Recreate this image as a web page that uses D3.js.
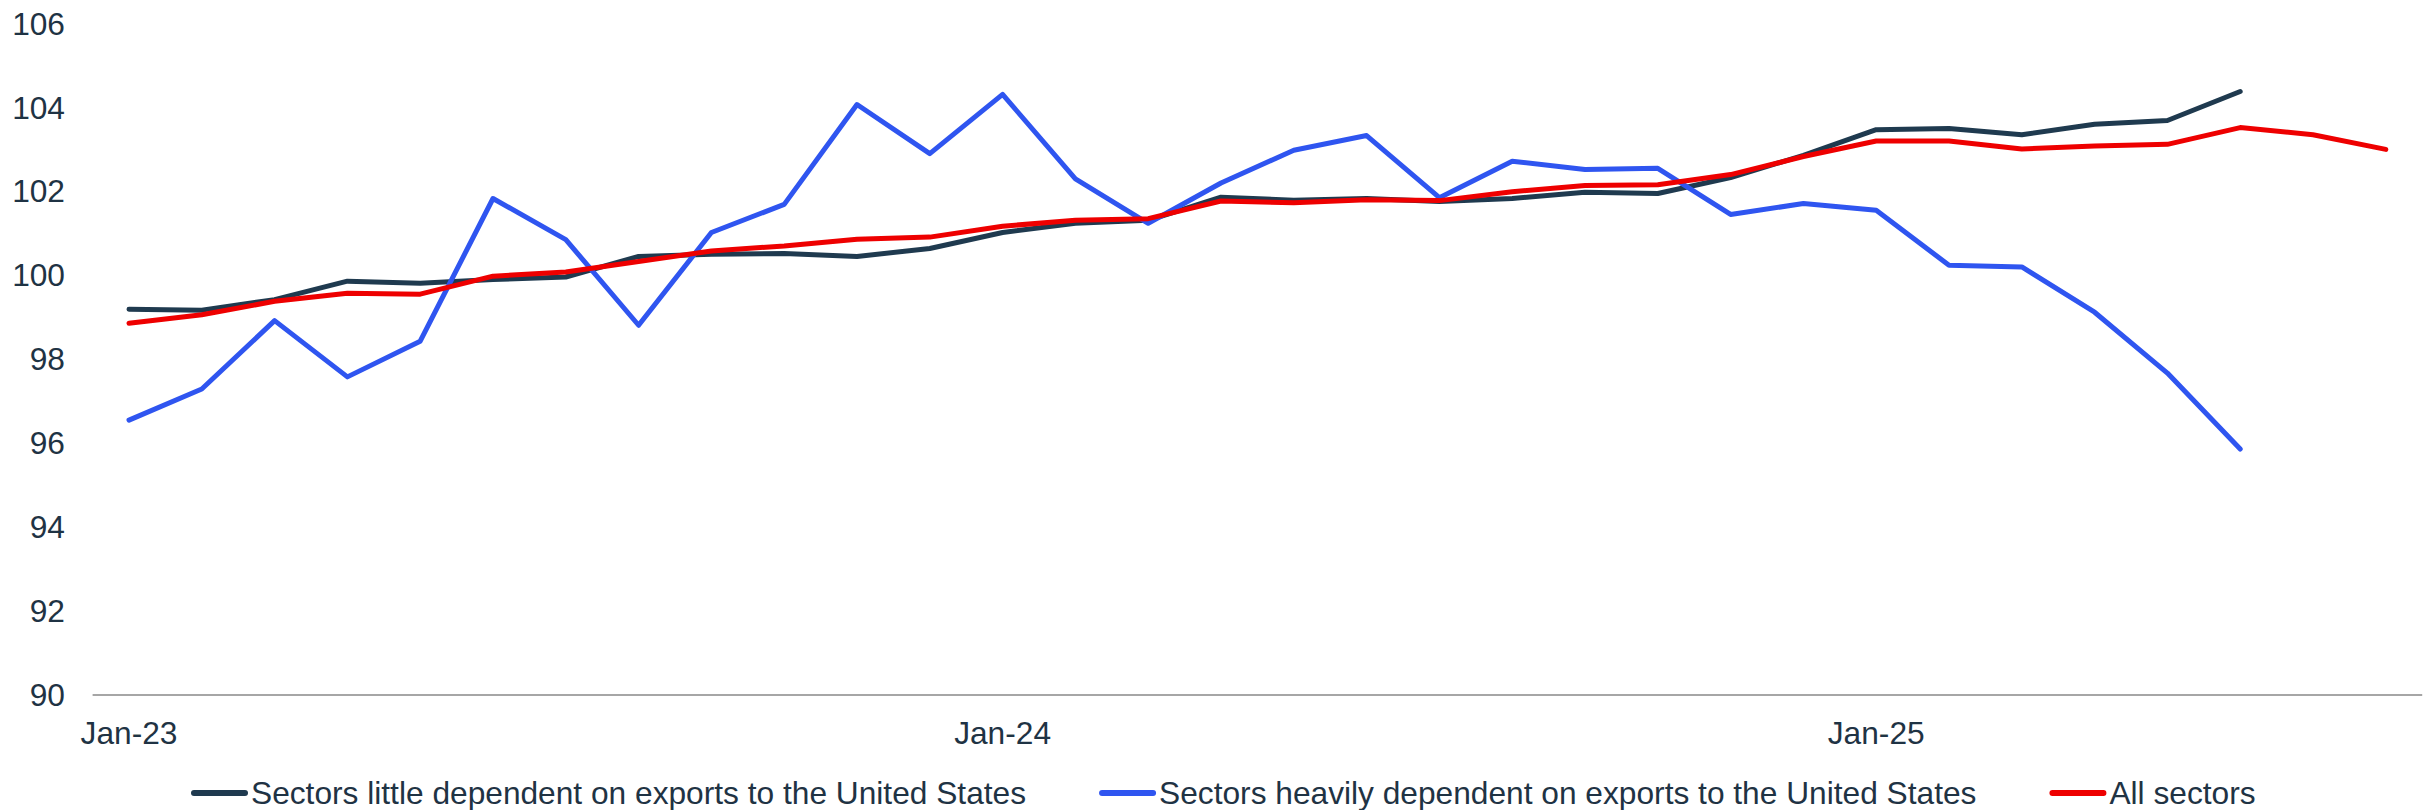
<!DOCTYPE html>
<html><head><meta charset="utf-8">
<script src="https://cdn.jsdelivr.net/npm/d3@7"></script>
<style>
html,body{margin:0;padding:0;background:#fff;}
svg text{font-family:"Liberation Sans",Arial,sans-serif;fill:#1f3344;}
</style></head>
<body><svg id="c" width="2430" height="810"></svg>
<script>
const months = ["Jan-23","Feb-23","Mar-23","Apr-23","May-23","Jun-23","Jul-23","Aug-23","Sep-23","Oct-23","Nov-23","Dec-23",
"Jan-24","Feb-24","Mar-24","Apr-24","May-24","Jun-24","Jul-24","Aug-24","Sep-24","Oct-24","Nov-24","Dec-24",
"Jan-25","Feb-25","Mar-25","Apr-25","May-25","Jun-25","Jul-25","Aug-25"];
const littleDependent = [99.19,99.17,99.42,99.86,99.81,99.90,99.96,100.45,100.50,100.52,
100.45,100.64,101.02,101.24,101.31,101.86,101.79,101.83,101.76,101.83,101.98,
101.95,102.33,102.86,103.47,103.50,103.35,103.60,103.69,104.38,null,null];
const heavilyDependent = [96.55,97.29,98.92,97.58,98.43,101.83,100.85,98.81,101.02,101.69,
104.07,102.90,104.31,102.30,101.24,102.20,102.98,103.33,101.85,102.72,102.52,
102.55,101.45,101.71,101.55,100.24,100.20,99.12,97.67,95.86,null,null];
const allSectors = [98.86,99.06,99.38,99.57,99.55,99.98,100.08,100.33,100.58,100.70,
100.86,100.91,101.17,101.31,101.35,101.77,101.73,101.80,101.78,101.99,102.14,
102.16,102.40,102.83,103.20,103.20,103.01,103.08,103.12,103.52,103.35,103.00];
const xTickLabels = ["Jan-23","Jan-24","Jan-25"];
const yTicks = [90,92,94,96,98,100,102,104,106];
const seriesNames = ["Sectors little dependent on exports to the United States",
"Sectors heavily dependent on exports to the United States","All sectors"];
const seriesColors = ["#1f3a4f","#2f55f0","#ee0000"];

const svg = d3.select("#c");
const x = d3.scaleBand().domain(months).range([92.6,2422.2]);
const y = d3.scaleLinear().domain([90,106]).range([695,23.5]);
const cx = d => x(d) + x.bandwidth()/2;
const FS = "31.7px";

// y labels
svg.append("g").selectAll("text").data(yTicks).join("text")
  .attr("x",65).attr("y",d=>y(d)).attr("dy","0.35em")
  .attr("text-anchor","end").style("font-size",FS).text(d=>d);

// baseline
svg.append("line").attr("x1",x.range()[0]).attr("x2",x.range()[1]).attr("y1",y(90)).attr("y2",y(90))
  .attr("stroke","#a6a6a6").attr("stroke-width",2);

// x labels
svg.append("g").selectAll("text").data(xTickLabels).join("text")
  .attr("x",d=>cx(d)).attr("y",744).attr("text-anchor","middle")
  .style("font-size",FS).text(d=>d);

const allSeries = [littleDependent, heavilyDependent, allSectors];
const line = d3.line().defined(d=>d.v!==null).x(d=>cx(d.m)).y(d=>y(d.v));
allSeries.forEach((s,i)=>{
  svg.append("path").datum(s.map((v,j)=>({m:months[j],v})))
    .attr("d",line).attr("fill","none").attr("stroke",seriesColors[i])
    .attr("stroke-width",5).attr("stroke-linejoin","round").attr("stroke-linecap","round");
});

// legend
const lg = svg.append("g");
let xpos = 194;
const ly = 793;
seriesNames.forEach((n,i)=>{
  lg.append("line").attr("x1",xpos).attr("x2",xpos+51).attr("y1",ly).attr("y2",ly)
    .attr("stroke",seriesColors[i]).attr("stroke-width",6).attr("stroke-linecap","round");
  const t = lg.append("text").attr("x",xpos+57).attr("y",ly).attr("dy","0.35em")
    .style("font-size",FS).text(n);
  xpos = xpos + 57 + t.node().getComputedTextLength() + 76;
});
</script></body></html>
